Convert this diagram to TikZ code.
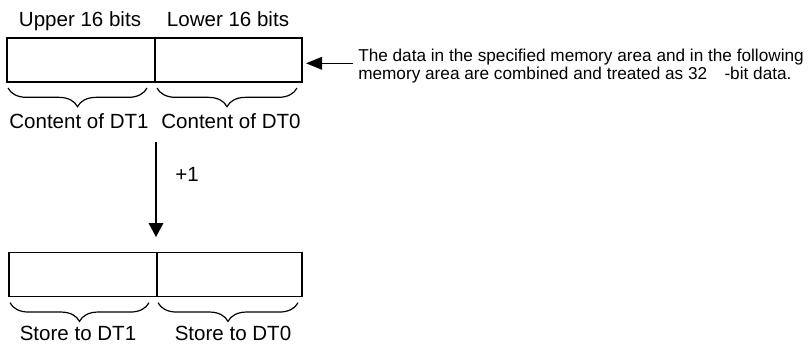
\documentclass[tikz,border=0pt]{standalone}
\usepackage{fontspec}
\setmainfont{Liberation Sans}
\usetikzlibrary{arrows.meta,decorations.pathreplacing}
\tikzset{
  cell/.style={draw, line width=1pt, inner sep=0pt, outer sep=0pt, minimum height=33pt},
  lbl/.style={font=\fontsize{15.4}{16}\selectfont, inner sep=0pt, anchor=base},
  desc/.style={font=\fontsize{12.9}{13}\selectfont, inner sep=0pt, anchor=base west},
  brc/.style={decorate, decoration={brace, mirror, amplitude=14pt}, line width=0.9pt},
  arr/.style={line width=0.9pt, -{Triangle[length=12pt,width=9.5pt]}}
}
\begin{document}
\begin{tikzpicture}[x=0.75pt, y=-0.75pt]
\useasboundingbox (0,0) rectangle (809,346);
% top register
\node[cell, minimum width=111pt] (up1) at (81,60) {};
\node[cell, minimum width=110.25pt] (lo1) at (228.5,60) {};
% bottom register
\node[cell, minimum width=111pt] (up2) at (83,274.7) {};
\node[cell, minimum width=108.75pt] (lo2) at (229.5,274.7) {};
% labels
\node[lbl] (tu) at (80,27) {Upper 16 bits};
\node[lbl] (tl) at (228,27) {Lower 16 bits};
\node[lbl] (c1) at (79,128) {Content of DT1};
\node[lbl] (c0) at (231,128) {Content of DT0};
\node[lbl] (s1) at (78,340) {Store to DT1};
\node[lbl] (s0) at (233,340) {Store to DT0};
\node[lbl] (p1) at (187,181) {+1};
% braces
\coordinate (b1a) at (8,88);   \coordinate (b1b) at (147,88);
\coordinate (b2a) at (157,88); \coordinate (b2b) at (297,88);
\coordinate (b3a) at (10,302.7);  \coordinate (b3b) at (149,302.7);
\coordinate (b4a) at (158,302.7); \coordinate (b4b) at (298,302.7);
\draw[brc] (b1a) -- (b1b);
\draw[brc] (b2a) -- (b2b);
\draw[brc] (b3a) -- (b3b);
\draw[brc] (b4a) -- (b4b);
% +1 arrow
\coordinate (va) at (156,142);
\coordinate (vb) at (156,237);
\draw[line width=0.9pt, -{Triangle[length=10.5pt,width=11pt]}] (va) -- (vb);
% description
\node[desc] (d1) at (358,61) {The data in the specified memory area and in the following};
\node[desc] (d2) at (358,79.5) {memory area are combined and treated as 32\hspace{13pt}-bit data.};
\coordinate (ha) at (353,63.3);
\coordinate (hb) at (306,63.3);
\draw[arr] (ha) -- (hb);
\end{tikzpicture}
\end{document}
